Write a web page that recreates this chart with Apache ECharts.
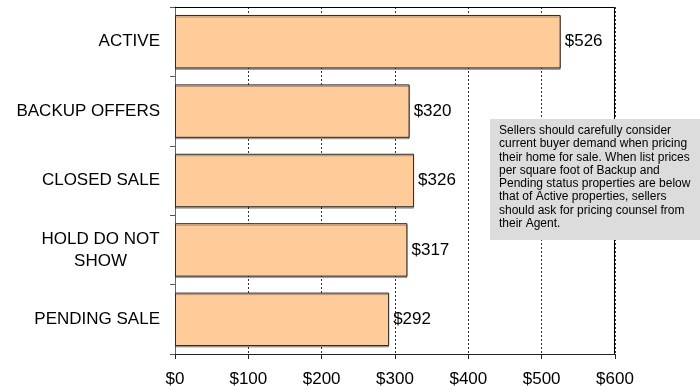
<!DOCTYPE html>
<html>
<head>
<meta charset="utf-8">
<script src="https://cdn.jsdelivr.net/npm/echarts@6/dist/echarts.min.js"></script>
<style>
  html, body { margin: 0; padding: 0; background: #fff; }
  #chart { width: 700px; height: 391px; }
</style>
</head>
<body>
<div id="chart"></div>
<script>
// Price per square foot by listing status
const categories = ['ACTIVE', 'BACKUP OFFERS', 'CLOSED SALE', 'HOLD DO NOT\nSHOW', 'PENDING SALE'];
const pricePerSqFt = [526, 320, 326, 317, 292];
const axisMin = 0;
const axisMax = 600;
const axisStep = 100;
const noteText = [
  'Sellers should carefully consider',
  'current buyer demand when pricing',
  'their home for sale. When list prices',
  'per square foot of Backup and',
  'Pending status properties are below',
  'that of Active properties, sellers',
  'should ask for pricing counsel from',
  'their Agent.'
];

const FONT = 'Liberation Sans, Arial, sans-serif';
const LABEL_SIZE = 17;

// measure text so wrapped category names can be centred under their first line
const measureCtx = document.createElement('canvas').getContext('2d');
measureCtx.font = LABEL_SIZE + 'px ' + FONT;
function categoryLabel(name) {
  const lines = name.split('\n');
  if (lines.length < 2) return name;
  const w = Math.ceil(Math.max(...lines.map(l => measureCtx.measureText(l).width)));
  return lines.map(l => '{c' + w + '|' + l + '}').join('\n');
}
const richStyles = {};
categories.forEach(name => {
  const lines = name.split('\n');
  if (lines.length > 1) {
    const w = Math.ceil(Math.max(...lines.map(l => measureCtx.measureText(l).width)));
    richStyles['c' + w] = { width: w, align: 'center', fontSize: LABEL_SIZE, fontFamily: FONT, color: '#000', lineHeight: 22 };
  }
});

const chart = echarts.init(document.getElementById('chart'), null, { renderer: 'canvas' });

chart.setOption({
  animation: false,
  backgroundColor: '#ffffff',
  textStyle: { fontFamily: FONT },
  grid: { left: 175, right: 85, top: 7, bottom: 37, containLabel: false },
  xAxis: {
    type: 'value',
    min: axisMin,
    max: axisMax,
    interval: axisStep,
    axisLine: { show: true, lineStyle: { color: '#222', width: 1 } },
    axisTick: { show: true, length: 5, lineStyle: { color: '#222' } },
    axisLabel: {
      color: '#000', fontSize: LABEL_SIZE, fontFamily: FONT, margin: 17,
      formatter: v => '$' + v
    },
    splitLine: { show: true, lineStyle: { color: '#333', type: [2, 2], width: 1 } }
  },
  yAxis: {
    type: 'category',
    inverse: true,
    data: categories,
    axisLine: { show: true, lineStyle: { color: '#666', width: 1 } },
    axisTick: { show: true, length: 5, inside: false, lineStyle: { color: '#555' } },
    axisLabel: {
      color: '#000', fontSize: LABEL_SIZE, fontFamily: FONT, margin: 15,
      align: 'right', lineHeight: 22,
      formatter: categoryLabel,
      rich: richStyles
    },
    splitLine: { show: false }
  },
  series: [{
    type: 'bar',
    data: pricePerSqFt,
    barCategoryGap: '23%',
    itemStyle: {
      color: '#FFCC99', borderColor: '#2a2a2a', borderWidth: 1,
      shadowColor: 'rgba(0,0,0,0.3)', shadowOffsetY: 1.5, shadowBlur: 0
    },
    label: {
      show: true,
      position: 'right',
      distance: 4,
      color: '#000',
      fontSize: LABEL_SIZE,
      fontFamily: FONT,
      formatter: p => '$' + p.value
    }
  }],
  graphic: [
    // plot frame: top and right edges
    {
      type: 'polyline',
      z: 10,
      shape: { points: [[175, 7.5], [614.5, 7.5], [614.5, 354]] },
      style: { stroke: '#000', lineWidth: 1, fill: null }
    },
    // explanatory note, drawn on its own layer above the grid
    {
      type: 'group',
      left: 490,
      top: 119,
      zlevel: 1,
      children: [
        {
          type: 'rect',
          zlevel: 1,
          shape: { x: 0, y: 0, width: 215, height: 121 },
          style: { fill: '#dcdcdc' }
        },
        {
          type: 'text',
          zlevel: 1,
          x: 9,
          y: 5,
          style: {
            text: noteText.join('\n'),
            fill: '#000',
            font: '12px ' + FONT,
            lineHeight: 13.3
          }
        }
      ]
    }
  ]
});
</script>
</body>
</html>
